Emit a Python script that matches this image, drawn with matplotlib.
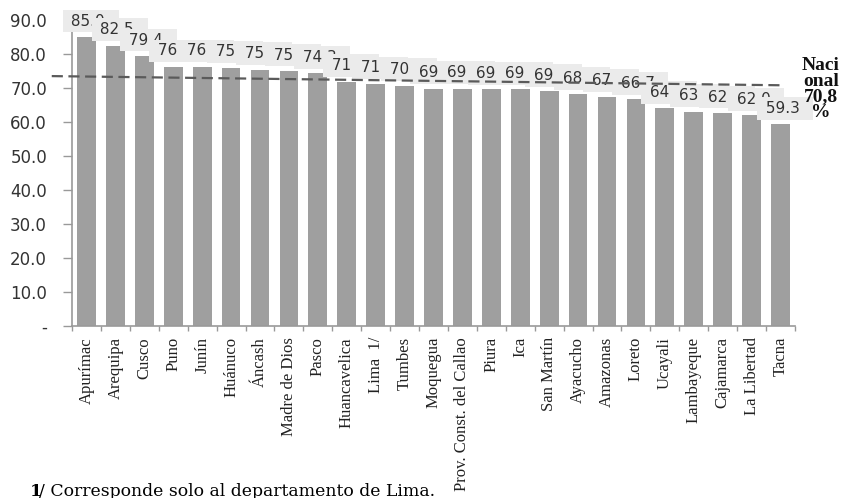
import matplotlib.pyplot as plt
from matplotlib.ticker import FixedLocator

# departamentos y porcentaje
departamentos = ['Apurímac', 'Arequipa', 'Cusco', 'Puno', 'Junín', 'Huánuco', 'Áncash',
                 'Madre de Dios', 'Pasco', 'Huancavelica', 'Lima  1/', 'Tumbes', 'Moquegua',
                 'Prov. Const. del Callao', 'Piura', 'Ica', 'San Martín', 'Ayacucho',
                 'Amazonas', 'Loreto', 'Ucayali', 'Lambayeque', 'Cajamarca', 'La Libertad',
                 'Tacna']
valores = [85.0, 82.5, 79.4, 76.2, 76.2, 75.9, 75.4, 75.0, 74.3, 71.9, 71.2, 70.7, 69.8,
           69.8, 69.6, 69.6, 69.0, 68.1, 67.5, 66.7, 64.0, 63.0, 62.6, 62.0, 59.3]
y_ticks = [0, 10, 20, 30, 40, 50, 60, 70, 80, 90]
y_labels = ['-', '10.0', '20.0', '30.0', '40.0', '50.0', '60.0', '70.0', '80.0', '90.0']

# linea nacional (trazada en el original con una ligera inclinacion)
nacional_x = [-1.2, 24.05]
nacional_y = [73.5, 70.8]
nacional_txt = 'Naci\nonal\n70,8\n%'

fig = plt.figure(figsize=(8.48, 4.98), dpi=100)
ax = fig.add_axes([72 / 848, 172 / 498, 723 / 848, 306 / 498])

x = list(range(len(departamentos)))
ax.bar(x, valores, width=0.65, color='#9f9f9f', zorder=2)

ax.set_xlim(-0.5, len(departamentos) - 0.5)
ax.set_ylim(0, 90)

ax.set_yticks(y_ticks)
ax.set_yticklabels(y_labels, fontsize=12, color='#333333')
ax.tick_params(axis='y', length=6.5, width=1, color='#999999', pad=11.5)

ax.set_xticks(x)
ax.set_xticklabels(departamentos, rotation=90, fontsize=12,
                   family='Liberation Serif', color='#222222')
ax.tick_params(axis='x', which='major', length=0, pad=8)
ax.xaxis.set_minor_locator(FixedLocator([i + 0.5 for i in range(-1, len(x))]))
ax.tick_params(axis='x', which='minor', length=3.6, width=1, color='#999999')

for s in ['top', 'right']:
    ax.spines[s].set_visible(False)
for s in ['left', 'bottom']:
    ax.spines[s].set_color('#999999')
    ax.spines[s].set_linewidth(1.2)

# etiquetas con caja gris, cada una tapa parte de la anterior
for i, v in enumerate(valores):
    ax.annotate(f' {v:.1f}  ', xy=(i, v), xytext=(-20, 16), textcoords='offset pixels',
                ha='left', va='center', fontsize=11, color='#333333',
                bbox=dict(boxstyle='square,pad=0.25', fc='#ebebeb', ec='none'),
                zorder=4, annotation_clip=False)

ax.plot(nacional_x, nacional_y, linestyle=(0, (5, 2.5)), color='#5a5a5a',
        linewidth=1.6, zorder=6, clip_on=False)

fig.text(821 / 848, 1 - 89 / 498, nacional_txt, ha='center', va='center',
         fontsize=14, fontweight='bold', family='Liberation Serif',
         linespacing=0.9, color='#111111')

fig.text(30 / 848, 7 / 498, '1', ha='left', va='center', fontsize=12.4,
         fontweight='bold', family='DejaVu Serif')
fig.text(39 / 848, 7 / 498, '/ Corresponde solo al departamento de Lima.', ha='left',
         va='center', fontsize=12.4, family='DejaVu Serif')

fig.savefig('out.png', dpi=100)
